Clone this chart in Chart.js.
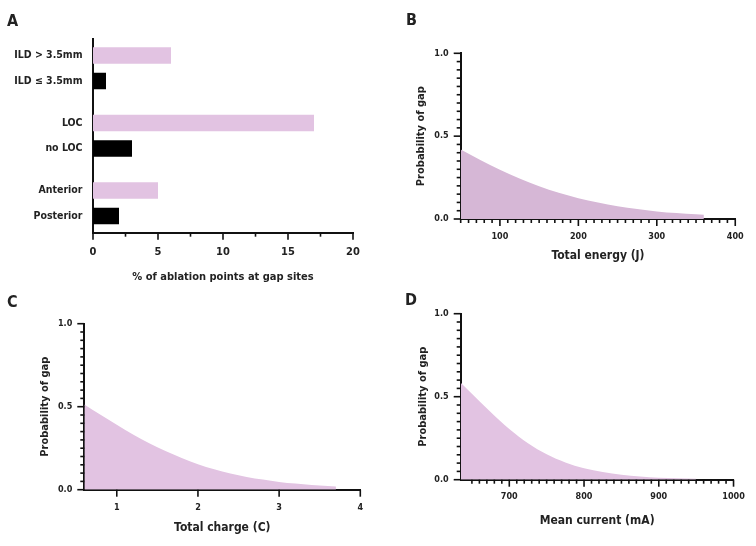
<!DOCTYPE html>
<html>
<head>
<meta charset="utf-8">
<script src="https://cdn.jsdelivr.net/npm/chart.js@4"></script>
<style>
  html, body { margin: 0; padding: 0; background: #fff; }
  #page { position: relative; width: 756px; height: 546px; overflow: hidden; }
  canvas { position: absolute; }
  .tag { position: absolute; font: bold 16px 'DejaVu Sans Condensed', 'DejaVu Sans', sans-serif; color: #222; }
</style>
</head>
<body>
<div id="page">
  <canvas id="chartA" width="378" height="292" style="left:0;top:0"></canvas>
  <canvas id="chartB" width="378" height="273" style="left:378px;top:0"></canvas>
  <canvas id="chartC" width="378" height="273" style="left:0;top:273px"></canvas>
  <canvas id="chartD" width="378" height="273" style="left:378px;top:273px"></canvas>
  <div class="tag" style="left:7px;top:11px">A</div>
  <div class="tag" style="left:406px;top:10px">B</div>
  <div class="tag" style="left:7px;top:292px">C</div>
  <div class="tag" style="left:405px;top:290px">D</div>
</div>
<script>
// panel A
const groupLabels = [['ILD > 3.5mm', 'ILD ≤ 3.5mm'], ['LOC', 'no LOC'], ['Anterior', 'Posterior']];
const gapHigh = [6, 17, 5];
const gapLow = [1, 3, 2];

// panel B
const energyJ = [50, 75, 100, 125, 150, 175, 200, 225, 250, 275, 300, 325, 350, 360];
const energyProb = [0.42, 0.356, 0.297, 0.244, 0.197, 0.158, 0.125, 0.099, 0.077, 0.06, 0.046, 0.036, 0.028, 0.025];

// panel C
const chargeC = [0.6, 0.8, 1.0, 1.2, 1.4, 1.6, 1.8, 2.0, 2.2, 2.4, 2.6, 2.8, 3.0, 3.2, 3.4, 3.6, 3.7];
const chargeProb = [0.514, 0.452, 0.391, 0.333, 0.28, 0.233, 0.191, 0.154, 0.123, 0.098, 0.077, 0.061, 0.047, 0.037, 0.029, 0.022, 0.02];

// panel D
const currentMA = [635, 650, 675, 700, 725, 750, 775, 800, 825, 850, 875, 900, 925, 950];
const currentProb = [0.584, 0.518, 0.408, 0.306, 0.22, 0.153, 0.104, 0.069, 0.046, 0.03, 0.019, 0.012, 0.008, 0.005];

const probTicks = ['0.0', '0.5', '1.0'];

const FONT = "'DejaVu Sans Condensed', 'DejaVu Sans', sans-serif";
const INK = '#222';
const PINK = '#e2c3e2';

Chart.defaults.font.family = FONT;
Chart.defaults.font.weight = 'bold';
Chart.defaults.color = INK;
Chart.defaults.animation = false;

const isStep = (v, step) => Math.abs(v / step - Math.round(v / step)) < 1e-6;

// draws major/minor tick marks outside the axes
const tickMarks = {
  id: 'tickMarks',
  afterDraw(chart, args, opts) {
    const ctx = chart.ctx;
    ctx.save();
    ctx.strokeStyle = '#111';
    ctx.lineWidth = 1.6;
    for (const key of ['x', 'y']) {
      const o = opts[key];
      if (!o) continue;
      const s = chart.scales[key];
      for (const t of s.ticks) {
        const major = isStep(t.value, o.major);
        if (!major && !(o.minor && isStep(t.value, o.minor))) continue;
        const len = major ? 7 : 4;
        const p = s.getPixelForValue(t.value);
        ctx.beginPath();
        if (key === 'x') { ctx.moveTo(p, s.top); ctx.lineTo(p, s.top + len); }
        else { ctx.moveTo(s.right, p); ctx.lineTo(s.right - len, p); }
        ctx.stroke();
      }
    }
    ctx.restore();
  }
};

const border = { display: true, width: 2, color: '#111' };
const noGrid = { display: false, drawTicks: false };

new Chart(document.getElementById('chartA'), {
  type: 'bar',
  data: {
    datasets: [
      { data: gapHigh.map((v, i) => ({ x: v, y: i })), backgroundColor: PINK },
      { data: gapLow.map((v, i) => ({ x: v, y: i })), backgroundColor: '#000' }
    ]
  },
  options: {
    responsive: false,
    indexAxis: 'y',
    categoryPercentage: 0.756,
    barPercentage: 0.647,
    layout: { padding: { left: 0, top: 39, right: 25, bottom: 0 } },
    plugins: { legend: { display: false }, tooltip: { enabled: false }, tickMarks: { x: { major: 5, minor: 2.5 } } },
    scales: {
      x: {
        type: 'linear', min: 0, max: 20, z: 1,
        grid: noGrid, border,
        afterFit: s => { s.height = 59.3; },
        ticks: { stepSize: 2.5, padding: 12.7, autoSkip: false, maxRotation: 0, font: { size: 11 },
                 callback: v => isStep(v, 5) ? v : '' },
        title: { display: true, text: '% of ablation points at gap sites', font: { size: 11 }, padding: { top: 0, bottom: 8.4 } }
      },
      y: {
        type: 'linear', reverse: true, offset: false, min: -0.433, max: 2.436, z: 1,
        grid: noGrid, border,
        afterFit: s => { s.width = 93; },
        afterBuildTicks: s => { s.ticks = groupLabels.map((_, i) => ({ value: i })); },
        ticks: { padding: 10.5, autoSkip: false, font: { size: 10.5, lineHeight: 2.43 }, callback: v => groupLabels[v] }
      }
    }
  },
  plugins: [tickMarks]
});

function curveChart(id, xs, ys, fill, xCfg, box) {
  new Chart(document.getElementById(id), {
    type: 'line',
    data: {
      datasets: [{
        data: xs.map((x, i) => ({ x, y: ys[i] })),
        fill: 'origin', backgroundColor: fill, borderWidth: 0,
        pointRadius: 0, cubicInterpolationMode: 'monotone'
      }]
    },
    options: {
      responsive: false,
      layout: { padding: { left: 0, top: box.top, right: box.right, bottom: 0 } },
      plugins: {
        legend: { display: false }, tooltip: { enabled: false },
        tickMarks: { x: { major: xCfg.major, minor: xCfg.minor }, y: { major: 0.5, minor: 0.05 } }
      },
      scales: {
        x: {
          type: 'linear', min: xCfg.min, max: xCfg.max, z: 1,
          grid: noGrid, border,
          afterFit: s => { s.height = box.xh; },
          ticks: { stepSize: xCfg.minor || xCfg.major, padding: box.xpad, autoSkip: false, maxRotation: 0,
                   font: { size: 9 }, callback: v => isStep(v, xCfg.major) ? v : '' },
          title: { display: true, text: xCfg.title, font: { size: 12 }, padding: { top: 0, bottom: box.xtb } }
        },
        y: {
          type: 'linear', min: 0, max: 1, z: 1,
          grid: noGrid, border,
          afterFit: s => { s.width = box.yw; },
          ticks: { stepSize: 0.05, padding: 12, autoSkip: false, font: { size: 9 },
                   callback: v => isStep(v, 0.5) ? probTicks[Math.round(v * 2)] : '' },
          title: { display: true, text: 'Probability of gap', font: { size: 11 }, padding: { top: box.ytp, bottom: 0 } }
        }
      }
    },
    plugins: [tickMarks]
  });
}

curveChart('chartB', energyJ, energyProb, '#d6b7d6',
  { min: 50, max: 400, major: 100, minor: 10, title: 'Total energy (J)' },
  { top: 53.3, right: 19.7, xh: 54, yw: 82.7, xpad: 12.3, xtb: 9.8, ytp: 36.9 });

curveChart('chartC', chargeC, chargeProb, PINK,
  { min: 0.6, max: 4, major: 1, minor: 0, title: 'Total charge (C)' },
  { top: 50.7, right: 17.7, xh: 56.3, yw: 84.3, xpad: 12.1, xtb: 10.8, ytp: 38.4 });

curveChart('chartD', currentMA, currentProb, PINK,
  { min: 635, max: 1000, major: 100, minor: 10, title: 'Mean current (mA)' },
  { top: 40.7, right: 18.7, xh: 66.3, yw: 82.7, xpad: 11.2, xtb: 18.3, ytp: 38.9 });
</script>
</body>
</html>
